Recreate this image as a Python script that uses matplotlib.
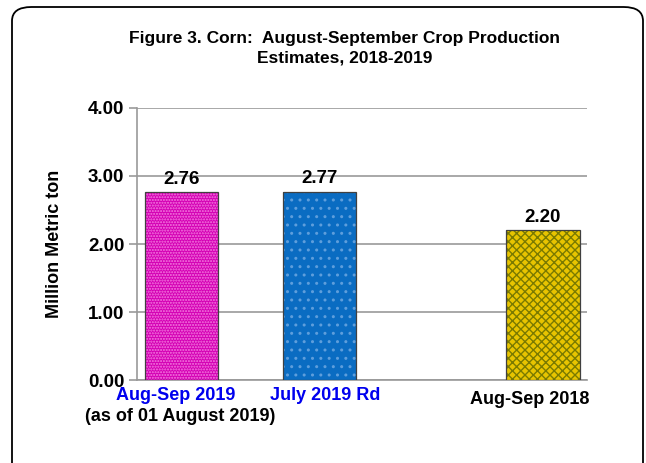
import matplotlib.pyplot as plt
from matplotlib.patches import FancyBboxPatch

# data
labels = ["Aug-Sep 2019", "July 2019 Rd", "Aug-Sep 2018"]
label_colors = ["#0000EE", "#0000EE", "black"]
label_x = [-0.04, 1.04, 2.525]
label_y = [-0.22, -0.22, -0.29]
values = [2.76, 2.77, 2.20]
positions = [0, 1, 2.62]
yticks = [0, 1, 2, 3, 4]

faces = ["#D400B4", "#0A6CC2", "#E8C400"]
hatch_cols = ["#F47EE0", "#5E9EDC", "#7A7A00"]
hatches = ["......", "..", "xxxx"]

plt.rcParams['font.family'] = ['Liberation Sans', 'DejaVu Sans']
plt.rcParams['hatch.linewidth'] = 1.0

fig = plt.figure(figsize=(6.46, 4.63), dpi=100)
ax = fig.add_axes([0.212, 0.179, 0.697, 0.588])

# rounded frame around whole chart
frame = FancyBboxPatch((12/646, -0.05), 631/646, 1 - 7/463 + 0.05,
                       boxstyle="round,pad=0,rounding_size=0.03",
                       transform=fig.transFigure, fill=False,
                       edgecolor="black", linewidth=1.3, zorder=0)
fig.patches.append(frame)

w = 0.53
for x, v, fc, hc, h in zip(positions, values, faces, hatch_cols, hatches):
    ax.bar(x, v, width=w, color=fc, edgecolor=hc, hatch=h, linewidth=0, zorder=3)
    ax.bar(x, v, width=w, fill=False, edgecolor="#404040", linewidth=0.9, zorder=4)
    ax.annotate(f"{v:.2f}", (x, v), xytext=(0, 3), textcoords="offset points",
                ha="center", va="bottom", fontsize=13.5, fontweight="bold", zorder=5)

ax.set_ylim(0, 4)
ax.set_xlim(-0.3225, 2.94)
ax.set_yticks(yticks)
ax.set_yticklabels([f"{t:.2f}" for t in yticks], fontsize=13.5, fontweight="bold")
ax.yaxis.grid(True, color="#999999", linewidth=1.2, zorder=1)
ax.tick_params(axis="y", color="#999999", length=6, width=1.2, pad=3)
ax.set_xticks([])

for lx, ly, lab, c in zip(label_x, label_y, labels, label_colors):
    ax.text(lx, ly, lab, ha="center", va="center", fontsize=13,
            fontweight="bold", color=c, clip_on=False)
ax.text(-0.01, -0.53, "(as of 01 August 2019)", ha="center", va="center",
        fontsize=13, fontweight="bold", clip_on=False)

for s in ["top", "right"]:
    ax.spines[s].set_visible(False)
ax.spines["left"].set_color("#999999")
ax.spines["bottom"].set_color("#999999")
ax.spines["left"].set_linewidth(1.2)
ax.spines["bottom"].set_linewidth(1.2)

ax.set_ylabel("Million Metric ton", fontsize=13, fontweight="bold", labelpad=18)

fig.text(0.533, 0.932, "Figure 3. Corn:  August-September Crop Production\nEstimates, 2018-2019",
         ha="center", va="top", fontsize=12.5, fontweight="bold", linespacing=1.3)

fig.savefig("out.png", dpi=100)
